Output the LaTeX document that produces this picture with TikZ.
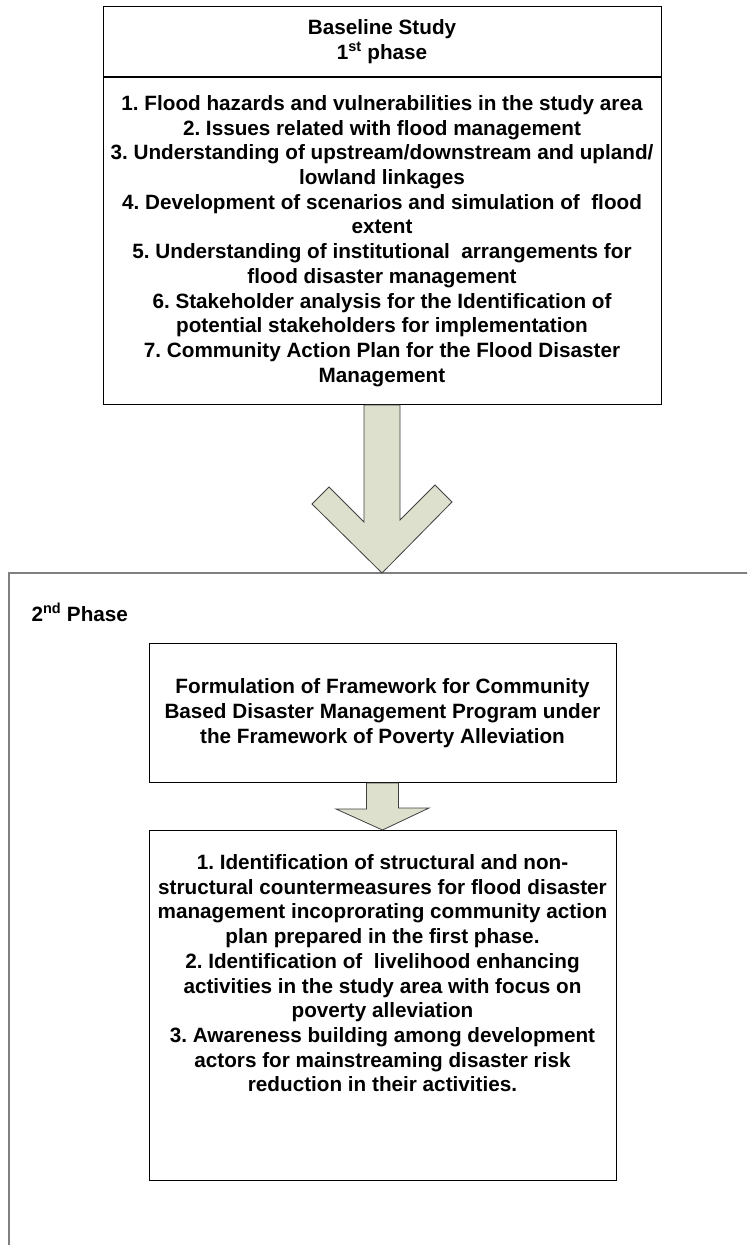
\documentclass[tikz,border=0pt]{standalone}
\usepackage{fontspec}
\setmainfont{Liberation Sans}
\usetikzlibrary{calc,positioning}
\frenchspacing

\definecolor{arrowfill}{RGB}{221,224,204}
\definecolor{framegray}{RGB}{128,128,128}

\tikzset{
  box/.style={draw,line width=1pt,align=center,inner sep=0pt,
    font=\bfseries\fontsize{20.7}{24.7}\selectfont},
  blockarrow/.style={draw=black!75,line width=0.8pt,fill=arrowfill},
  frame/.style={draw=framegray,line width=2pt},
}

\begin{document}
\begin{tikzpicture}[x=1pt,y=1pt]
  \useasboundingbox (0,0) rectangle (747,-1245);
  \clip (0,0) rectangle (747,-1245);
  \node[box,minimum width=558,minimum height=70,anchor=north] (base) at (382,-6)
    {Baseline Study\\1\textsuperscript{st} phase};
  \node[box,minimum width=558,minimum height=327,anchor=north] (tasks) at (base.south)
    {1. Flood hazards and vulnerabilities in the study area\\
     2. Issues related with flood management\\
     3. Understanding of upstream/downstream and upland/\\
     lowland linkages\\
     4. Development of scenarios and simulation of\ \ flood\\
     extent\\
     5. Understanding of institutional\ \ arrangements for\\
     flood disaster management\\
     6. Stakeholder analysis for the Identification of\\
     potential stakeholders for implementation\\
     7. Community Action Plan for the Flood Disaster\\
     Management};
  \draw[frame] (760,-573) -- (8.5,-573) -- (8.5,-1260);
  \coordinate (frametop) at (382,-573);
  \draw[blockarrow] ($(tasks.south)+(-18,0)$) -- ++(0,-117) -- ++(-35,35)
    -- ++(-17,-17) -- (frametop) -- ++(70,71) -- ++(-17,17) -- ++(-35,-35)
    -- ($(tasks.south)+(18,0)$) -- cycle;
  \node[box,draw=none,anchor=base west] (phase) at (31,-621)
    {2\textsuperscript{nd} Phase};
  \node[box,minimum width=467,minimum height=139,anchor=north] (plan) at (382.5,-643)
    {Formulation of Framework for Community\\
     Based Disaster Management Program under\\
     the Framework of Poverty Alleviation};
  \node[box,minimum width=467,inner xsep=-6.5pt,anchor=north] (actions) at (382.5,-830)
    {\parbox[c][350pt][t]{480pt}{\centering\vspace*{24pt}%
     1. Identification of structural and non-\\
     structural countermeasures for flood disaster\\
     management incoprorating community action\\
     plan prepared in the first phase.\\
     2. Identification of\ \ livelihood enhancing\\
     activities in the study area with focus on\\
     poverty alleviation\\
     3. Awareness building among development\\
     actors for mainstreaming disaster risk\\
     reduction in their activities.}};
  \draw[blockarrow] ($(plan.south)+(-16,0)$) -- ++(0,-26) -- ++(-30.5,0)
    -- (actions.north) -- ++(46.5,22) -- ++(-30.5,0)
    -- ($(plan.south)+(16,0)$) -- cycle;
\end{tikzpicture}
\end{document}
